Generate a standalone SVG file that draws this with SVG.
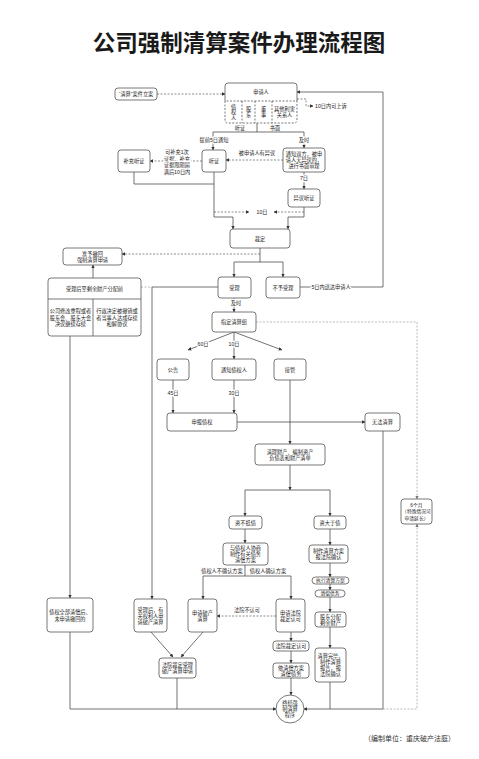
<svg xmlns="http://www.w3.org/2000/svg" width="479" height="759" viewBox="0 0 479 759">
<defs>
<style>
text{font-family:"Liberation Sans","Noto Sans CJK SC",sans-serif;fill:#222;text-anchor:middle;dominant-baseline:central;font-size:5.2px}
.t{font-size:22.5px;font-weight:bold;fill:#1a1a1a}
.ft{font-size:7px;text-anchor:end;fill:#333}
.b{fill:#fff;stroke:#555;stroke-width:0.8}
.s{fill:none;stroke:#444;stroke-width:0.75}
.d{fill:none;stroke:#666;stroke-width:0.75;stroke-dasharray:2 1.5}
.g{fill:none;stroke:#aaa;stroke-width:0.8;stroke-dasharray:2 1.5}
.lb{stroke:#fff;stroke-width:2.5;paint-order:stroke;stroke-linejoin:round}
.sm{font-size:4.8px}
</style>
<marker id="a" viewBox="0 0 6 6" refX="5.5" refY="3" markerUnits="userSpaceOnUse" markerWidth="3.6" markerHeight="3.6" orient="auto"><path d="M0,0L6,3L0,6z" fill="#333"/></marker>
<marker id="ag" viewBox="0 0 6 6" refX="5.5" refY="3" markerUnits="userSpaceOnUse" markerWidth="3.6" markerHeight="3.6" orient="auto"><path d="M0,0L6,3L0,6z" fill="#777"/></marker>
</defs>
<rect width="479" height="759" fill="#fff"/>
<text class="t" x="239" y="43">公司强制清算案件办理流程图</text>

<g id="connectors">
<path class="d" marker-end="url(#a)" d="M157,94H225"/>
<path class="d" marker-end="url(#a)" d="M297,99H306V106H313"/>
<path class="s" d="M257,123V132M213,132H304"/>
<path class="s" marker-end="url(#a)" d="M213,132V150"/>
<path class="s" marker-end="url(#a)" d="M304,132V148"/>
<path class="d" marker-end="url(#a)" d="M202,161H150"/>
<path class="d" marker-end="url(#a)" d="M283,160H226"/>
<path class="s" marker-end="url(#a)" d="M304,172V189"/>
<path class="d" marker-end="url(#a)" d="M214,212H249"/>
<path class="d" marker-end="url(#a)" d="M304,212H274"/>
<path class="s" d="M134,172V184H214"/>
<path class="s" marker-end="url(#a)" d="M214,172V217H233V229"/>
<path class="s" marker-end="url(#a)" d="M304,207V217H288V229"/>
<path class="s" d="M260,248V262M234,262H283"/>
<path class="s" marker-end="url(#a)" d="M234,262V277"/>
<path class="s" marker-end="url(#a)" d="M283,262V277"/>
<path class="d" marker-end="url(#a)" d="M260,254H122"/>
<path class="s" marker-end="url(#a)" d="M300,287H383V92H297"/>
<path class="s" marker-end="url(#a)" d="M93,278V265"/>
<path class="g" d="M141,287H152"/>
<path class="s" marker-end="url(#a)" d="M218,287H152V599"/>
<path class="s" marker-end="url(#a)" d="M70,336V598"/>
<path class="s" marker-end="url(#a)" d="M70,632V709H276"/>
<path class="s" marker-end="url(#a)" d="M234,298V312"/>
<path class="s" marker-end="url(#a)" d="M234,332L188,350"/>
<path class="s" marker-end="url(#a)" d="M234,332V359"/>
<path class="s" marker-end="url(#a)" d="M234,332L282,350"/>
<path class="s" marker-end="url(#a)" d="M173,380V413"/>
<path class="s" marker-end="url(#a)" d="M234,380V413"/>
<path class="s" marker-end="url(#a)" d="M237,422H365"/>
<path class="s" marker-end="url(#a)" d="M290,380V444"/>
<path class="s" marker-end="url(#a)" d="M383,431V709H304"/>
<path class="s" marker-end="url(#a)" d="M290,465V490"/>
<path class="s" d="M245,490H330"/>
<path class="s" marker-end="url(#a)" d="M245,490V516"/>
<path class="s" marker-end="url(#a)" d="M330,490V516"/>
<path class="s" marker-end="url(#a)" d="M245,529V543"/>
<path class="s" d="M245,565V576M203,576H291"/>
<path class="s" marker-end="url(#a)" d="M203,576V599"/>
<path class="s" marker-end="url(#a)" d="M291,576V599"/>
<path class="d" marker-end="url(#a)" d="M276,616H217"/>
<path class="s" marker-end="url(#a)" d="M151,632L173,657"/>
<path class="s" marker-end="url(#a)" d="M203,632L181,657"/>
<path class="s" d="M177,678V709"/>
<path class="s" marker-end="url(#a)" d="M291,632V641"/>
<path class="s" marker-end="url(#a)" d="M291,651V663"/>
<path class="s" marker-end="url(#a)" d="M291,678V695"/>
<path class="s" marker-end="url(#a)" d="M330,529V545"/>
<path class="s" marker-end="url(#a)" d="M330,563V577"/>
<path class="s" marker-end="url(#a)" d="M330,584V590"/>
<path class="s" marker-end="url(#a)" d="M330,597V612"/>
<path class="s" marker-end="url(#a)" d="M330,627V648"/>
<path class="s" d="M330,682V709"/>
<path class="g" marker-end="url(#ag)" d="M256,322H417V499"/>
<path class="g" marker-end="url(#ag)" d="M383,709H417V524"/>
<text x="315" y="106" style="text-anchor:start">10日内可上诉</text>
<text x="240" y="127.5">听证</text>
<text x="275" y="127.5">书面</text>
<text class="lb" x="214" y="140">提前5日通知</text>
<text class="lb" x="304" y="140">及时</text>
<text class="lb" x="177" y="152">可补充1次</text>
<text class="lb" x="177" y="158.5">证据，补充</text>
<text class="lb" x="177" y="165">证据限期届</text>
<text class="lb" x="177" y="171.5">满后10日内</text>
<text x="257" y="153">被申请人有异议</text>
<text class="lb" x="304" y="178">7日</text>
<text x="262" y="212">10日</text>
<text class="lb" x="331" y="287">5日内送达申请人</text>
<text class="lb" x="236" y="303">及时</text>
<text class="lb" x="203" y="344">60日</text>
<text class="lb" x="234" y="344">10日</text>
<text class="lb" x="173" y="393">45日</text>
<text class="lb" x="234" y="393">30日</text>
<text x="222" y="571">债权人不确认方案</text>
<text x="268" y="571">债权人确认方案</text>
<text class="lb" x="247" y="610">法院不认可</text>
</g>

<g id="n_lian"><rect class="b" x="115" y="88" width="42" height="12" rx="3"/><text x="136" y="94">“清算”案件立案</text></g>
<g id="n_applicant">
<rect x="225" y="83" width="72" height="40" rx="3" fill="#fff"/>
<path d="M225,101V86Q225,83 228,83H294Q297,83 297,86V101" fill="none" stroke="#555" stroke-width="0.8"/>
<path d="M225,101V120Q225,123 228,123H294Q297,123 297,120V101H225M242,101V123M255,101V123M272,101V123" fill="none" stroke="#555" stroke-width="0.8" stroke-dasharray="2 1.5"/>
<text x="261" y="92">申请人</text>
<text x="233.5" y="106.5">债</text><text x="233.5" y="112">权</text><text x="233.5" y="117.5">人</text>
<text x="248.5" y="109">股</text><text x="248.5" y="115">东</text>
<text x="263.5" y="109">董</text><text x="263.5" y="115">事</text>
<text x="284.5" y="109">其他利害</text><text x="284.5" y="115">关系人</text>
</g>
<g id="n_tingzheng"><rect class="b" x="202" y="150" width="24" height="22" rx="3"/><text x="214" y="161">听证</text></g>
<g id="n_buchong"><rect class="b" x="118" y="150" width="32" height="22" rx="3"/><text x="134" y="161">补充听证</text></g>
<g id="n_shumian"><rect class="b" x="283" y="148" width="42" height="24" rx="3"/><text x="304" y="154">通知双方，被申</text><text x="304" y="160">请人无异议的，</text><text x="304" y="166">进行书面审理</text></g>
<g id="n_yiyi"><rect class="b" x="288" y="189" width="32" height="18" rx="3"/><text x="304" y="198">异议听证</text></g>
<g id="n_caiding"><rect class="b" x="230" y="229" width="60" height="19" rx="3"/><text x="260" y="238.5">裁定</text></g>
<g id="n_chehui"><rect class="b" x="63" y="248" width="59" height="17" rx="3"/><text x="92.5" y="253.5">准予撤回</text><text x="92.5" y="259.5">强制清算申请</text></g>
<g id="n_period">
<rect class="b" x="48" y="278" width="93" height="58" rx="3"/>
<path d="M48,299H141M93,299V336" stroke="#555" stroke-width="0.8"/>
<text x="94.5" y="288.5">受理后至剩余财产分配前</text>
<text x="70.5" y="311">公司修改章程或者</text><text x="70.5" y="317.5">股东会、股东大会</text><text x="70.5" y="324">决议继续存续</text>
<text x="117" y="311">行政决定被撤销或</text><text x="117" y="317.5">者当事人达成存续</text><text x="117" y="324">和解协议</text>
</g>
<g id="n_shouli"><rect class="b" x="218" y="277" width="33" height="21" rx="3"/><text x="234.5" y="287.5">受理</text></g>
<g id="n_buyu"><rect class="b" x="266" y="277" width="34" height="21" rx="3"/><text x="283" y="287.5">不予受理</text></g>
<g id="n_zhiding"><rect class="b" x="212" y="312" width="44" height="20" rx="3"/><text x="234" y="322">指定清算组</text></g>
<g id="n_gonggao"><rect class="b" x="157" y="359" width="32" height="21" rx="3"/><text x="173" y="369.5">公告</text></g>
<g id="n_tongzhi"><rect class="b" x="212" y="359" width="44" height="21" rx="3"/><text x="234" y="369.5">通知债权人</text></g>
<g id="n_jieguan"><rect class="b" x="274" y="359" width="32" height="21" rx="3"/><text x="290" y="369.5">接管</text></g>
<g id="n_shenbao"><rect class="b" x="167" y="413" width="70" height="18" rx="3"/><text x="202" y="422">申报债权</text></g>
<g id="n_wufa"><rect class="b" x="365" y="413" width="35" height="18" rx="3"/><text x="382.5" y="422">无法清算</text></g>
<g id="n_qingli"><rect class="b" x="255" y="444" width="70" height="21" rx="3"/><text x="290" y="451.5">清理财产、编制资产</text><text x="290" y="458">负债表和财产清单</text></g>
<g id="n_bubi"><rect class="b" x="229" y="516" width="33" height="13" rx="3"/><text x="245.5" y="522.5">资不抵债</text></g>
<g id="n_dayu"><rect class="b" x="314" y="516" width="32" height="13" rx="3"/><text x="330" y="522.5">资大于债</text></g>
<g id="n_xieshang"><rect class="b" x="223" y="543" width="45" height="22" rx="3"/><text x="245.5" y="548">与债权人协商</text><text x="245.5" y="554">制作有关债务</text><text x="245.5" y="560">清偿方案</text></g>
<g id="n_sqpc"><rect class="b" x="188" y="599" width="29" height="33" rx="3"/><text x="202.5" y="612.5">申请破产</text><text x="202.5" y="619">清算</text></g>
<g id="n_sqrk"><rect class="b" x="276" y="599" width="29" height="33" rx="3"/><text x="290.5" y="612.5">申请法院</text><text x="290.5" y="619">裁定认可</text></g>
<g id="n_youguan"><rect class="b" x="134" y="599" width="33" height="33" rx="3"/><text x="150.5" y="609.5">受理后，有</text><text x="150.5" y="615.5">关权利人申</text><text x="150.5" y="621.5">请破产清算</text></g>
<g id="n_qingchang"><rect class="b" x="47" y="598" width="46" height="34" rx="3"/><text x="70" y="612">债权全部清偿后、</text><text x="70" y="618.5">未申请撤回的</text></g>
<g id="n_fayuanshouli"><rect class="b" x="159" y="658" width="37" height="20" rx="3"/><text x="177.5" y="665">法院裁定受理</text><text x="177.5" y="671">破产清算申请</text></g>
<g id="n_rk"><rect class="b" x="273" y="641" width="36" height="10" rx="3"/><text x="291" y="646">法院裁定认可</text></g>
<g id="n_yifangan"><rect class="b" x="273" y="663" width="36" height="15" rx="3"/><text x="291" y="668">依清偿方案</text><text x="291" y="673.5">清偿债务</text></g>
<g id="n_end"><ellipse class="b" cx="290" cy="709" rx="14" ry="14"/><text x="290" y="703">终结强</text><text x="290" y="709">制清算</text><text x="290" y="715">程序</text></g>
<g id="n_fangan"><rect class="b" x="309" y="545" width="39" height="18" rx="3"/><text x="328.5" y="551">制作清算方案</text><text x="328.5" y="557">报法院确认</text></g>
<g id="n_zhixing"><rect class="b" x="312" y="577" width="37" height="7" rx="3.5"/><text class="sm" x="330.5" y="580.5">执行清算方案</text></g>
<g id="n_qczw"><rect class="b" x="315" y="590" width="30" height="7" rx="3.5"/><text class="sm" x="330" y="593.5">清偿债务</text></g>
<g id="n_fenpei"><rect class="b" x="315" y="612" width="31" height="15" rx="3"/><text x="330.5" y="617">股东分配</text><text x="330.5" y="622.5">剩余财产</text></g>
<g id="n_wanbi"><rect class="b" x="315" y="648" width="31" height="34" rx="3"/><text x="330.5" y="655.5">清算完毕，</text><text x="330.5" y="661.5">制作清算</text><text x="330.5" y="667.5">报告，报</text><text x="330.5" y="673.5">法院确认</text></g>
<g id="n_6m"><rect class="b" x="401" y="499" width="31" height="25" rx="3"/><text class="sm" x="416.5" y="505">6个月</text><text class="sm" x="416.5" y="511.5">（特殊情况可</text><text class="sm" x="416.5" y="518">申请延长）</text></g>
<text class="ft" x="455" y="738">（编制单位：重庆破产法庭）</text>
</svg>
